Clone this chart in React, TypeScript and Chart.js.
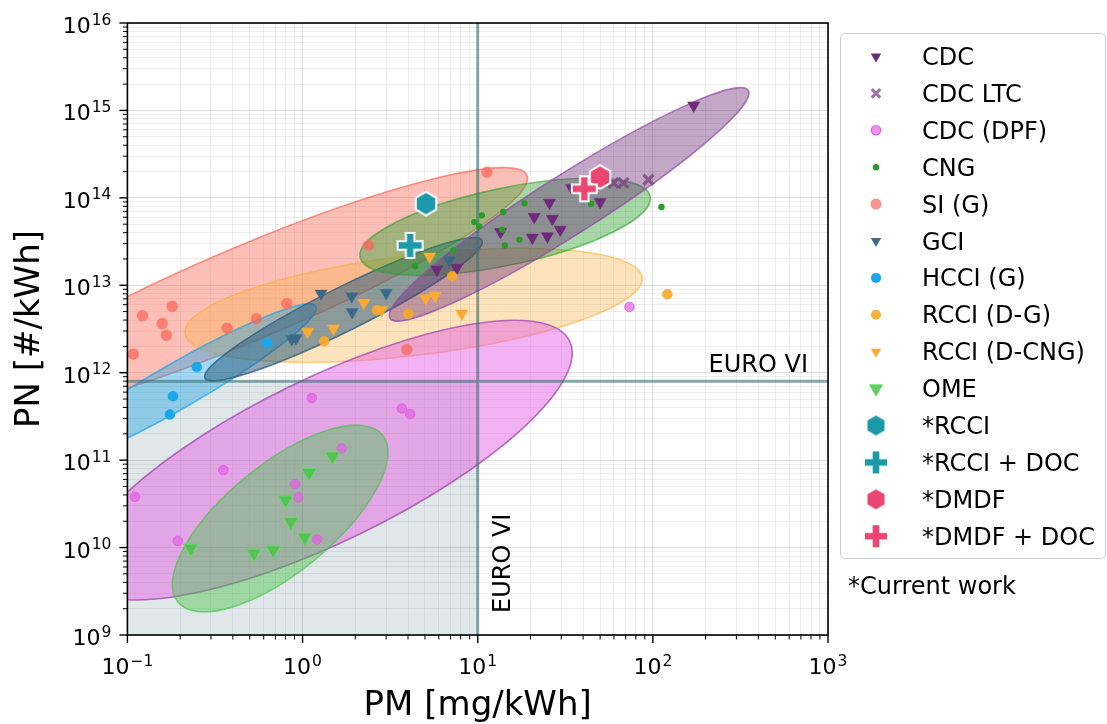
import React, { useEffect, useRef } from 'react';
import { Chart, registerables } from 'chart.js';

Chart.register(...registerables);

const FONT = '"DejaVu Sans", "Liberation Sans", sans-serif';

// Axis ranges (log decades)
const pmDecades = [-1, 0, 1, 2, 3];
const pnDecades = [9, 10, 11, 12, 13, 14, 15, 16];

// EURO VI limits
const euroPM = 10;
const euroPN = 8e11;

// Literature data: PM [mg/kWh] and PN [#/kWh]
const cdcPM = [5.84, 7.6, 13.5, 20.5, 25.0, 21.0, 26.7, 29.6, 25.7, 50.0, 34.4, 171];
const cdcPN = [1.52e13, 1.59e13, 4.06e13, 3.51e13, 3.63e13, 6.04e13, 5.78e13, 4.33e13, 8.81e13, 8.95e13, 1.3e14, 1.14e15];

const cdcLtcPM = [59.7, 67.9, 94.4];
const cdcLtcPN = [1.48e14, 1.48e14, 1.61e14];

const cdcDpfPM = [0.1105, 0.194, 0.353, 1.13, 3.69, 4.11, 0.906, 0.946, 1.21, 1.67, 73.5];
const cdcDpfPN = [3.81e10, 1.19e10, 7.69e10, 5.15e11, 3.9e11, 3.36e11, 5.32e10, 3.75e10, 1.24e10, 1.36e11, 5.65e12];

const cngPM = [4.39, 7.26, 9.57, 10.55, 10.2, 14.0, 18.5, 13.8, 14.3, 17.3, 44.4, 112];
const cngPN = [1.65e13, 2.51e13, 5.28e13, 6.31e13, 4.72e13, 6.88e13, 8.65e13, 4.31e13, 2.86e13, 3.33e13, 8.59e13, 7.85e13];

const siPM = [0.108, 0.122, 0.158, 0.18, 0.167, 0.371, 0.546, 0.813, 2.38, 11.3, 3.94];
const siPN = [1.63e12, 4.48e12, 3.65e12, 5.75e12, 2.68e12, 3.23e12, 4.14e12, 6.18e12, 2.86e13, 1.97e14, 1.84e12];

const gciPM = [0.868, 0.918, 1.275, 1.91, 1.92, 3.0, 6.87];
const gciPN = [2.42e12, 2.48e12, 8.04e12, 7.48e12, 4.95e12, 8.2e12, 1.93e13];

const hcciPM = [0.182, 0.175, 0.249, 0.627];
const hcciPN = [5.38e11, 3.33e11, 1.16e12, 2.19e12];

const rcciDgPM = [1.33, 2.66, 4.02, 7.14, 121];
const rcciDgPN = [2.29e12, 5.18e12, 4.72e12, 1.27e13, 7.89e12];

const rcciDcngPM = [1.07, 1.5, 2.24, 2.83, 5.04, 5.71, 5.31, 8.11];
const rcciDcngPN = [2.94e12, 3.2e12, 6.34e12, 5.25e12, 7.1e12, 7.59e12, 2.13e13, 4.75e12];

const omePM = [0.23, 0.528, 0.681, 0.801, 0.856, 1.03, 1.09, 1.48];
const omePN = [9.8e9, 8.59e9, 9.36e9, 3.49e10, 1.97e10, 1.31e10, 7.16e10, 1.11e11];

// Current work
const rcciPM = [5.07];
const rcciPN = [8.6e13];
const rcciDocPM = [4.11];
const rcciDocPN = [2.86e13];
const dmdfPM = [50.0];
const dmdfPN = [1.73e14];
const dmdfDocPM = [40.6];
const dmdfDocPN = [1.27e14];

// Spread ellipses: major-axis end points (data values) and minor/major ratio
const siSpread = { pm: [19.1, 0.0131], pn: [1.81e14, 3.83e11], ratio: 0.156 };
const rcciDgSpread = { pm: [0.213, 86.9], pn: [2.82e12, 1.23e13], ratio: 0.217 };
const cdcDpfSpread = { pm: [33.5, 0.054], pn: [2.3e12, 4.35e9], ratio: 0.3 };
const hcciSpread = { pm: [1.19, 0.0308], pn: [5.75e12, 8.53e10], ratio: 0.14 };
const gciSpread = { pm: [0.277, 10.6], pn: [8.65e11, 3.27e13], ratio: 0.14 };
const cngSpread = { pm: [2.13, 96.6], pn: [2.09e13, 1.04e14], ratio: 0.26 };
const cdcSpread = { pm: [3.16, 350], pn: [4.2e12, 1.69e15], ratio: 0.14 };
const omeSpread = { pm: [2.86, 0.194], pn: [1.94e11, 2.38e9], ratio: 0.408 };

type Spread = { pm: number[]; pn: number[]; ratio: number };

const spreads: { s: Spread; fill: string; edge: string }[] = [
  { s: siSpread, fill: 'rgba(250,128,114,0.5)', edge: 'rgba(248,110,95,0.75)' },
  { s: rcciDgSpread, fill: 'rgba(250,175,60,0.35)', edge: 'rgba(250,175,60,0.6)' },
  { s: cdcDpfSpread, fill: 'rgba(230,100,230,0.5)', edge: 'rgba(160,70,175,0.75)' },
  { s: hcciSpread, fill: 'rgba(30,165,232,0.42)', edge: 'rgba(30,165,232,0.7)' },
  { s: gciSpread, fill: 'rgba(47,95,127,0.55)', edge: 'rgba(47,95,127,0.8)' },
  { s: cngSpread, fill: 'rgba(44,160,44,0.42)', edge: 'rgba(44,160,44,0.6)' },
  { s: cdcSpread, fill: 'rgba(110,45,120,0.42)', edge: 'rgba(150,75,170,0.75)' },
  { s: omeSpread, fill: 'rgba(76,195,76,0.45)', edge: 'rgba(76,195,76,0.65)' },
];

const toPoints = (xs: number[], ys: number[]) => xs.map((x, i) => ({ x, y: ys[i] }));

function hexStamp(color: string, r: number): HTMLCanvasElement {
  const w = Math.ceil(2 * r + 6);
  const c = document.createElement('canvas');
  c.width = w;
  c.height = w;
  const g = c.getContext('2d')!;
  g.translate(w / 2, w / 2);
  g.beginPath();
  for (let k = 0; k < 6; k++) {
    const a = -Math.PI / 2 + (k * Math.PI) / 3;
    const px = r * Math.cos(a);
    const py = r * Math.sin(a);
    if (k === 0) g.moveTo(px, py);
    else g.lineTo(px, py);
  }
  g.closePath();
  g.fillStyle = color;
  g.fill();
  g.lineWidth = 2;
  g.strokeStyle = '#ffffff';
  g.lineJoin = 'round';
  g.stroke();
  return c;
}

function plusStamp(color: string, h: number, t: number): HTMLCanvasElement {
  const w = Math.ceil(2 * h + 6);
  const c = document.createElement('canvas');
  c.width = w;
  c.height = w;
  const g = c.getContext('2d')!;
  g.translate(w / 2, w / 2);
  const pts = [
    [-t, -h], [t, -h], [t, -t], [h, -t], [h, t], [t, t],
    [t, h], [-t, h], [-t, t], [-h, t], [-h, -t], [-t, -t],
  ];
  g.beginPath();
  pts.forEach(([px, py], k) => (k === 0 ? g.moveTo(px, py) : g.lineTo(px, py)));
  g.closePath();
  g.fillStyle = color;
  g.fill();
  g.lineWidth = 2;
  g.strokeStyle = '#ffffff';
  g.lineJoin = 'miter';
  g.stroke();
  return c;
}

function logTicks(decades: number[]) {
  const ticks: { value: number; major: boolean }[] = [];
  for (let i = 0; i < decades.length; i++) {
    const e = decades[i];
    const last = i === decades.length - 1;
    for (let m = 1; m <= (last ? 1 : 9); m++) {
      ticks.push({ value: m * Math.pow(10, e), major: m === 1 });
    }
  }
  return ticks;
}

function powerLabel(ctx: CanvasRenderingContext2D, exp: number, x: number, base: number, align: 'right' | 'center') {
  const b = '10';
  const s = exp < 0 ? '\u2212' + Math.abs(exp) : String(exp);
  ctx.font = `22px ${FONT}`;
  const wb = ctx.measureText(b).width;
  ctx.font = `15.5px ${FONT}`;
  const ws = ctx.measureText(s).width;
  const total = wb + 1 + ws;
  const left = align === 'right' ? x - total : x - total / 2;
  ctx.textAlign = 'left';
  ctx.textBaseline = 'alphabetic';
  ctx.fillStyle = '#000';
  ctx.font = `22px ${FONT}`;
  ctx.fillText(b, left, base);
  ctx.font = `15.5px ${FONT}`;
  ctx.fillText(s, left + wb + 1, base - 8.5);
}

type Mark = { kind: 'tri' | 'circle' | 'x' | 'img'; color: string; size: number; img?: HTMLCanvasElement; edge?: string };

function drawMark(ctx: CanvasRenderingContext2D, m: Mark, x: number, y: number) {
  ctx.save();
  if (m.kind === 'tri') {
    const r = m.size;
    ctx.beginPath();
    for (let k = 0; k < 3; k++) {
      const a = Math.PI + (k * 2 * Math.PI) / 3;
      const px = x + Math.sin(a) * r;
      const py = y - Math.cos(a) * r;
      if (k === 0) ctx.moveTo(px, py);
      else ctx.lineTo(px, py);
    }
    ctx.closePath();
    ctx.fillStyle = m.color;
    ctx.fill();
    if (m.edge) {
      ctx.strokeStyle = m.edge;
      ctx.lineWidth = 1;
      ctx.stroke();
    }
  } else if (m.kind === 'circle') {
    ctx.beginPath();
    ctx.arc(x, y, m.size, 0, Math.PI * 2);
    ctx.fillStyle = m.color;
    ctx.fill();
    if (m.edge) {
      ctx.strokeStyle = m.edge;
      ctx.lineWidth = 1.2;
      ctx.stroke();
    }
  } else if (m.kind === 'x') {
    const d = m.size * Math.SQRT1_2;
    ctx.beginPath();
    ctx.moveTo(x - d, y - d);
    ctx.lineTo(x + d, y + d);
    ctx.moveTo(x + d, y - d);
    ctx.lineTo(x - d, y + d);
    ctx.strokeStyle = m.color;
    ctx.lineWidth = 3;
    ctx.stroke();
  } else if (m.img) {
    ctx.drawImage(m.img, x - m.img.width / 2, y - m.img.height / 2);
  }
  ctx.restore();
}

export default function App() {
  const canvasRef = useRef<HTMLCanvasElement | null>(null);

  useEffect(() => {
    document.body.style.margin = '0';
    const canvas = canvasRef.current;
    if (!canvas) return;

    const teal = '#1b9aaa';
    const pink = '#ec4572';
    const hexTeal = hexStamp(teal, 11.8);
    const plusTeal = plusStamp(teal, 12.5, 4.2);
    const hexPink = hexStamp(pink, 11.8);
    const plusPink = plusStamp(pink, 12.5, 4.2);

    const series = [
      { label: 'CDC', pm: cdcPM, pn: cdcPN, style: 'triangle', rot: 180, r: 7, fill: '#6e2a7b', border: '#6e2a7b', bw: 0.5, legend: { kind: 'tri', color: '#6e2a7b', size: 6 } },
      { label: 'CDC LTC', pm: cdcLtcPM, pn: cdcLtcPN, style: 'crossRot', rot: 0, r: 7, fill: 'rgba(125,70,130,0.8)', border: 'rgba(125,70,130,0.8)', bw: 3.4, legend: { kind: 'x', color: 'rgba(140,90,145,0.85)', size: 6 } },
      { label: 'CDC (DPF)', pm: cdcDpfPM, pn: cdcDpfPN, style: 'circle', rot: 0, r: 4.8, fill: 'rgba(226,96,226,0.7)', border: 'rgba(226,96,226,0.85)', bw: 1, legend: { kind: 'circle', color: 'rgba(226,110,226,0.75)', size: 4.8, edge: 'rgba(220,90,220,0.9)' } },
      { label: 'CNG', pm: cngPM, pn: cngPN, style: 'circle', rot: 0, r: 3.2, fill: '#2a9a2a', border: '#2a9a2a', bw: 0, legend: { kind: 'circle', color: '#2a9a2a', size: 3.2 } },
      { label: 'SI (G)', pm: siPM, pn: siPN, style: 'circle', rot: 0, r: 5.2, fill: 'rgba(248,100,88,0.7)', border: 'rgba(248,120,105,0.6)', bw: 1.5, legend: { kind: 'circle', color: 'rgba(248,110,100,0.7)', size: 5, edge: 'rgba(248,120,105,0.6)' } },
      { label: 'GCI', pm: gciPM, pn: gciPN, style: 'triangle', rot: 180, r: 7, fill: '#3a6a88', border: '#3a6a88', bw: 0.5, legend: { kind: 'tri', color: '#3d6c8a', size: 6 } },
      { label: 'HCCI (G)', pm: hcciPM, pn: hcciPN, style: 'circle', rot: 0, r: 5, fill: '#1aa6ea', border: '#1aa6ea', bw: 0.5, legend: { kind: 'circle', color: '#1aa6ea', size: 5 } },
      { label: 'RCCI (D-G)', pm: rcciDgPM, pn: rcciDgPN, style: 'circle', rot: 0, r: 5, fill: 'rgba(250,168,40,0.9)', border: 'rgba(250,168,40,0.9)', bw: 0.5, legend: { kind: 'circle', color: 'rgba(250,168,40,0.9)', size: 5 } },
      { label: 'RCCI (D-CNG)', pm: rcciDcngPM, pn: rcciDcngPN, style: 'triangle', rot: 180, r: 7, fill: '#fbab30', border: '#fbab30', bw: 0.5, legend: { kind: 'tri', color: '#fbab30', size: 6 } },
      { label: 'OME', pm: omePM, pn: omePN, style: 'triangle', rot: 180, r: 8.5, fill: 'rgba(72,196,72,0.85)', border: 'rgba(110,215,110,0.9)', bw: 1, legend: { kind: 'tri', color: 'rgba(72,196,72,0.85)', size: 7.5, edge: 'rgba(110,215,110,0.9)' } },
      { label: '*RCCI', pm: rcciPM, pn: rcciPN, style: hexTeal, rot: 0, r: 11, fill: teal, border: teal, bw: 0, legend: { kind: 'img', color: teal, size: 11, img: hexStamp(teal, 11) } },
      { label: '*RCCI + DOC', pm: rcciDocPM, pn: rcciDocPN, style: plusTeal, rot: 0, r: 12, fill: teal, border: teal, bw: 0, legend: { kind: 'img', color: teal, size: 12, img: plusStamp(teal, 12, 4.3) } },
      { label: '*DMDF', pm: dmdfPM, pn: dmdfPN, style: hexPink, rot: 0, r: 11, fill: pink, border: pink, bw: 0, legend: { kind: 'img', color: pink, size: 11, img: hexStamp(pink, 11) } },
      { label: '*DMDF + DOC', pm: dmdfDocPM, pn: dmdfDocPN, style: plusPink, rot: 0, r: 12, fill: pink, border: pink, bw: 0, legend: { kind: 'img', color: pink, size: 12, img: plusStamp(pink, 12, 4.3) } },
    ];

    const n = series.length;
    const datasets = series.map((s, i) => ({
      label: s.label,
      data: toPoints(s.pm, s.pn),
      order: n - i,
      showLine: false,
      pointStyle: s.style as any,
      pointRotation: s.rot,
      pointRadius: s.r,
      pointHoverRadius: s.r,
      pointBackgroundColor: s.fill,
      pointBorderColor: s.border,
      pointBorderWidth: s.bw,
      pointHoverBorderWidth: s.bw,
    }));

    const decor = {
      id: 'decor',
      beforeDatasetsDraw(chart: any) {
        const { ctx, chartArea: a, scales } = chart;
        const xs = scales.x;
        const ys = scales.y;
        ctx.save();
        ctx.beginPath();
        ctx.rect(a.left, a.top, a.right - a.left, a.bottom - a.top);
        ctx.clip();
        const xe = xs.getPixelForValue(euroPM);
        const ye = ys.getPixelForValue(euroPN);
        ctx.fillStyle = 'rgba(47,95,100,0.15)';
        ctx.fillRect(a.left, ye, xe - a.left, a.bottom - ye);

        spreads.forEach(({ s, fill, edge }) => {
          const x1 = xs.getPixelForValue(s.pm[0]);
          const y1 = ys.getPixelForValue(s.pn[0]);
          const x2 = xs.getPixelForValue(s.pm[1]);
          const y2 = ys.getPixelForValue(s.pn[1]);
          const semi = Math.hypot(x2 - x1, y2 - y1) / 2;
          const ang = Math.atan2(y2 - y1, x2 - x1);
          ctx.beginPath();
          ctx.ellipse((x1 + x2) / 2, (y1 + y2) / 2, semi, semi * s.ratio, ang, 0, Math.PI * 2);
          ctx.fillStyle = fill;
          ctx.fill();
          ctx.lineWidth = 1.6;
          ctx.strokeStyle = edge;
          ctx.stroke();
        });

        ctx.strokeStyle = 'rgba(55,115,120,0.6)';
        ctx.lineWidth = 3;
        ctx.beginPath();
        ctx.moveTo(xe, a.top);
        ctx.lineTo(xe, a.bottom);
        ctx.moveTo(a.left, ye);
        ctx.lineTo(a.right, ye);
        ctx.stroke();
        ctx.restore();

        ctx.save();
        ctx.fillStyle = '#000';
        ctx.font = `24px ${FONT}`;
        ctx.textAlign = 'right';
        ctx.textBaseline = 'alphabetic';
        ctx.fillText('EURO VI', a.right - 20, ye - 9);
        ctx.translate(xe + 32, a.bottom - 22);
        ctx.rotate(-Math.PI / 2);
        ctx.textAlign = 'left';
        ctx.fillText('EURO VI', 0, 0);
        ctx.restore();
      },
      afterDraw(chart: any) {
        const { ctx, chartArea: a, scales } = chart;
        const xs = scales.x;
        const ys = scales.y;
        ctx.save();
        // frame
        ctx.strokeStyle = '#000';
        ctx.lineWidth = 1.6;
        ctx.strokeRect(a.left, a.top, a.right - a.left, a.bottom - a.top);
        // tick marks
        logTicks(pmDecades).forEach((t) => {
          const p = xs.getPixelForValue(t.value);
          ctx.lineWidth = t.major ? 1.4 : 1;
          ctx.beginPath();
          ctx.moveTo(p, a.bottom);
          ctx.lineTo(p, a.bottom + (t.major ? 8 : 4.5));
          ctx.stroke();
        });
        logTicks(pnDecades).forEach((t) => {
          const p = ys.getPixelForValue(t.value);
          ctx.lineWidth = t.major ? 1.4 : 1;
          ctx.beginPath();
          ctx.moveTo(a.left, p);
          ctx.lineTo(a.left - (t.major ? 8 : 4.5), p);
          ctx.stroke();
        });
        // tick labels
        pmDecades.forEach((e) => powerLabel(ctx, e, xs.getPixelForValue(Math.pow(10, e)), a.bottom + 39, 'center'));
        pnDecades.forEach((e) => powerLabel(ctx, e, a.left - 16, ys.getPixelForValue(Math.pow(10, e)) + 10, 'right'));
        // axis titles
        ctx.fillStyle = '#000';
        ctx.font = `34px ${FONT}`;
        ctx.textAlign = 'center';
        ctx.textBaseline = 'alphabetic';
        ctx.fillText('PM [mg/kWh]', (a.left + a.right) / 2, 715);
        ctx.save();
        ctx.translate(39, (a.top + a.bottom) / 2);
        ctx.rotate(-Math.PI / 2);
        ctx.fillText('PN [#/kWh]', 0, 0);
        ctx.restore();

        // legend
        const lx = 840.5;
        const ly = 33.5;
        const lw = 265;
        const lh = 525;
        ctx.beginPath();
        ctx.roundRect(lx, ly, lw, lh, 4);
        ctx.fillStyle = 'rgba(255,255,255,0.85)';
        ctx.fill();
        ctx.strokeStyle = '#cfcfcf';
        ctx.lineWidth = 1;
        ctx.stroke();
        series.forEach((s, i) => {
          const cy = 56.5 + i * 36.9;
          drawMark(ctx, s.legend as Mark, 876, cy);
          ctx.fillStyle = '#000';
          ctx.font = `24px ${FONT}`;
          ctx.textAlign = 'left';
          ctx.textBaseline = 'alphabetic';
          ctx.fillText(s.label, 922, cy + 8.5);
        });
        ctx.fillText('*Current work', 848, 594);
        ctx.restore();
      },
    };

    const chart = new Chart(canvas, {
      type: 'scatter',
      data: { datasets },
      options: {
        animation: false,
        responsive: false,
        devicePixelRatio: 1,
        events: [],
        layout: { padding: { top: 23, right: 279, left: 0, bottom: 0 } },
        plugins: { legend: { display: false }, tooltip: { enabled: false } },
        scales: {
          x: {
            type: 'logarithmic',
            min: 0.1,
            max: 1000,
            afterBuildTicks: (scale: any) => {
              scale.ticks = logTicks(pmDecades);
            },
            afterFit: (scale: any) => {
              scale.height = 89;
            },
            ticks: { display: false },
            border: { display: false },
            grid: {
              drawTicks: false,
              tickLength: 0,
              lineWidth: 1,
              color: (c: any) => (c.tick && c.tick.major ? 'rgba(0,0,0,0.13)' : 'rgba(0,0,0,0.065)'),
            },
          },
          y: {
            type: 'logarithmic',
            min: 1e9,
            max: 1e16,
            afterBuildTicks: (scale: any) => {
              scale.ticks = logTicks(pnDecades);
            },
            afterFit: (scale: any) => {
              scale.width = 127.4;
            },
            ticks: { display: false },
            border: { display: false },
            grid: {
              drawTicks: false,
              tickLength: 0,
              lineWidth: 1,
              color: (c: any) => (c.tick && c.tick.major ? 'rgba(0,0,0,0.13)' : 'rgba(0,0,0,0.065)'),
            },
          },
        },
      },
      plugins: [decor],
    });

    return () => chart.destroy();
  }, []);

  return (
    <div style={{ width: 1107, height: 724 }}>
      <canvas ref={canvasRef} width={1107} height={724} style={{ display: 'block' }} />
    </div>
  );
}
